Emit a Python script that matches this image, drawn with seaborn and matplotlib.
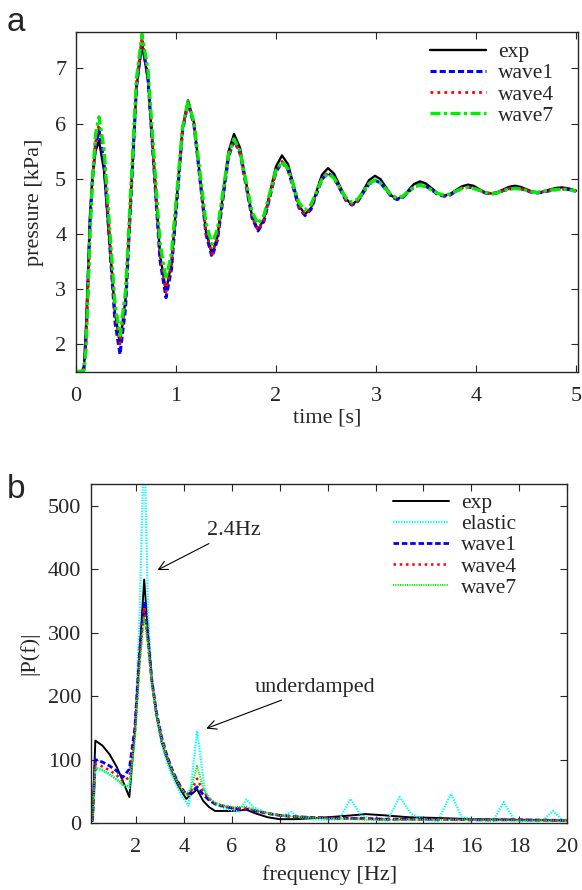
import numpy as np
import pandas as pd
import seaborn as sns
import matplotlib
matplotlib.use("Agg")
import matplotlib.pyplot as plt

# ---- panel a : pressure vs time ----
time_s = [0, 0.06, 0.08, 0.10, 0.12, 0.14, 0.165, 0.195,
          0.23, 0.28, 0.335, 0.39, 0.44, 0.495, 0.55, 0.605,
          0.66, 0.72, 0.78, 0.84, 0.90, 0.955, 1.01, 1.065,
          1.12, 1.18, 1.24, 1.30, 1.36, 1.415, 1.47, 1.525,
          1.58, 1.64, 1.70, 1.76, 1.82, 1.88, 1.94, 2.00,
          2.06, 2.12, 2.175, 2.23, 2.29, 2.35, 2.405, 2.46,
          2.52, 2.58, 2.64, 2.70, 2.76, 2.82, 2.875, 2.93,
          2.99, 3.045, 3.10, 3.155, 3.21, 3.27, 3.325, 3.38,
          3.44, 3.50, 3.56, 3.62, 3.68, 3.74, 3.80, 3.86,
          3.92, 3.975, 4.03, 4.09, 4.15, 4.21, 4.27, 4.33,
          4.39, 4.445, 4.50, 4.555, 4.61, 4.67, 4.735, 4.80,
          4.86, 4.93, 5.0]

p_exp = [1.5, 1.5, 1.6, 2.3, 3.3, 4.35, 5.05, 5.5,
         5.69, 5.15, 3.86, 2.56, 2.02, 2.81, 4.74, 6.66,
         7.45, 6.79, 5.21, 3.62, 2.96, 3.47, 4.69, 5.91,
         6.42, 6.01, 5.03, 4.04, 3.63, 3.95, 4.72, 5.49,
         5.81, 5.56, 4.94, 4.32, 4.07, 4.27, 4.75, 5.22,
         5.42, 5.26, 4.89, 4.51, 4.35, 4.47, 4.77, 5.07,
         5.19, 5.09, 4.86, 4.63, 4.53, 4.61, 4.79, 4.97,
         5.05, 4.99, 4.84, 4.69, 4.63, 4.68, 4.79, 4.90,
         4.95, 4.91, 4.82, 4.73, 4.69, 4.72, 4.79, 4.86,
         4.89, 4.87, 4.81, 4.75, 4.73, 4.75, 4.80, 4.85,
         4.87, 4.85, 4.81, 4.77, 4.75, 4.76, 4.80, 4.83,
         4.84, 4.82, 4.78]

p_wave1 = [1.5, 1.5, 1.55, 2.1, 3.1, 4.2, 5.0, 5.6,
           5.88, 5.29, 3.85, 2.40, 1.81, 2.64, 4.66, 6.67,
           7.50, 6.82, 5.17, 3.52, 2.84, 3.36, 4.61, 5.86,
           6.38, 5.97, 4.98, 3.99, 3.58, 3.89, 4.64, 5.39,
           5.70, 5.46, 4.88, 4.29, 4.05, 4.23, 4.68, 5.12,
           5.30, 5.16, 4.82, 4.47, 4.33, 4.44, 4.72, 4.99,
           5.10, 5.02, 4.81, 4.60, 4.52, 4.59, 4.75, 4.90,
           4.97, 4.92, 4.80, 4.67, 4.62, 4.66, 4.76, 4.85,
           4.89, 4.86, 4.79, 4.71, 4.68, 4.70, 4.77, 4.83,
           4.85, 4.83, 4.79, 4.74, 4.72, 4.74, 4.78, 4.81,
           4.83, 4.82, 4.79, 4.75, 4.74, 4.75, 4.78, 4.80,
           4.81, 4.80, 4.77]

p_wave4 = [1.5, 1.5, 1.55, 2.0, 3.0, 4.1, 5.0, 5.65,
           5.98, 5.40, 3.99, 2.58, 2.00, 2.81, 4.78, 6.74,
           7.55, 6.88, 5.25, 3.62, 2.95, 3.45, 4.68, 5.90,
           6.40, 6.00, 5.02, 4.03, 3.63, 3.93, 4.67, 5.41,
           5.71, 5.47, 4.89, 4.31, 4.07, 4.25, 4.69, 5.13,
           5.31, 5.17, 4.83, 4.49, 4.35, 4.46, 4.73, 4.99,
           5.10, 5.02, 4.82, 4.61, 4.53, 4.59, 4.75, 4.91,
           4.97, 4.92, 4.80, 4.68, 4.63, 4.67, 4.76, 4.85,
           4.89, 4.86, 4.79, 4.72, 4.69, 4.71, 4.77, 4.83,
           4.85, 4.83, 4.79, 4.75, 4.73, 4.74, 4.78, 4.82,
           4.83, 4.82, 4.79, 4.76, 4.75, 4.76, 4.78, 4.80,
           4.81, 4.80, 4.77]

p_wave7 = [1.5, 1.5, 1.52, 1.9, 2.9, 4.0, 5.0, 5.8,
           6.12, 5.54, 4.14, 2.73, 2.15, 2.95, 4.89, 6.82,
           7.62, 6.97, 5.40, 3.83, 3.18, 3.65, 4.79, 5.93,
           6.40, 6.02, 5.11, 4.19, 3.81, 4.09, 4.77, 5.44,
           5.72, 5.50, 4.95, 4.40, 4.18, 4.34, 4.75, 5.15,
           5.31, 5.18, 4.87, 4.56, 4.43, 4.53, 4.76, 4.99,
           5.09, 5.01, 4.83, 4.65, 4.57, 4.63, 4.77, 4.91,
           4.97, 4.92, 4.81, 4.70, 4.65, 4.68, 4.77, 4.85,
           4.88, 4.85, 4.79, 4.73, 4.70, 4.72, 4.77, 4.82,
           4.84, 4.82, 4.79, 4.75, 4.73, 4.74, 4.78, 4.81,
           4.82, 4.81, 4.79, 4.76, 4.75, 4.77, 4.79, 4.80,
           4.81, 4.80, 4.77]

# ---- panel b : spectrum ----
freq = [0.18, 0.3, 0.6, 0.9, 1.2, 1.45, 1.72, 1.95, 2.15, 2.34,
        2.5, 2.66, 2.85, 3.07, 3.3, 3.5, 3.7, 3.9, 4.1, 4.3,
        4.55, 4.8, 5.05, 5.3, 5.7, 6.1, 6.6, 7.0, 7.5, 8.0,
        8.6, 9.2, 10.0, 11.0, 11.6, 12.4, 13.4, 14.5, 16, 18, 20]

P_exp = [3, 130, 122, 108, 88, 66, 41, 145, 270, 384,
         300, 225, 170, 127, 100, 80, 63, 50, 38, 45,
         53, 35, 25, 19, 19, 19, 21, 15, 9, 6,
         6, 7, 9, 12, 14, 12, 9, 8, 6, 5, 4]
P_wave1 = [3, 100, 96, 90, 82, 72, 85, 150, 270, 350,
           290, 225, 175, 135, 105, 85, 68, 55, 45, 48,
           57, 45, 36, 30, 26, 23, 22, 19, 15, 12,
           10, 9, 8, 7, 7, 6, 6, 6, 5, 5, 4]
P_wave4 = [3, 93, 89, 83, 75, 66, 72, 140, 260, 340,
           285, 222, 173, 133, 104, 84, 67, 54, 44, 50,
           70, 50, 38, 31, 26, 23, 23, 19, 15, 12,
           10, 9, 8, 7, 7, 6, 6, 6, 5, 5, 4]
P_wave7 = [3, 88, 84, 77, 69, 60, 58, 130, 250, 325,
           280, 220, 172, 132, 103, 83, 66, 53, 45, 55,
           90, 55, 40, 32, 27, 25, 26, 20, 16, 12,
           10, 9, 7, 6, 5, 5, 5, 5, 5, 4, 4]

freq_el = [0.18, 0.3, 0.6, 0.9, 1.2, 1.45, 1.72, 1.95, 2.15, 2.34,
           2.5, 2.66, 2.85, 3.07, 3.3, 3.5, 3.7, 3.9, 4.2, 4.55,
           4.9, 5.2, 5.6, 6.0, 6.3, 6.6, 6.9, 7.3, 7.8, 8.2,
           8.5, 8.8, 9.3, 10.0, 10.5, 10.95, 11.4, 12.0, 12.5, 13.0,
           13.5, 14.0, 14.6, 15.15, 15.6, 16.2, 16.9, 17.35, 17.8, 18.5,
           19.0, 19.4, 19.8, 20.0]
P_elastic = [3, 85, 82, 76, 68, 60, 55, 140, 330, 620,
             330, 225, 168, 125, 95, 75, 58, 43, 27, 145,
             45, 32, 24, 20, 18, 37, 25, 18, 13, 12,
             17, 9, 6, 5, 6, 38, 12, 5, 4, 41,
             14, 6, 3, 46, 9, 5, 3, 33, 4, 3,
             4, 19, 5, 2]

sns.set_style("ticks")
plt.rcParams['font.family'] = ['Liberation Serif', 'DejaVu Serif']
plt.rcParams['font.size'] = 16
plt.rcParams['xtick.direction'] = 'in'
plt.rcParams['ytick.direction'] = 'in'
plt.rcParams['xtick.top'] = True
plt.rcParams['ytick.right'] = True
plt.rcParams['xtick.major.size'] = 5
plt.rcParams['ytick.major.size'] = 5
plt.rcParams['xtick.major.pad'] = 10.5
plt.rcParams['ytick.major.pad'] = 7
plt.rcParams['axes.linewidth'] = 1.0

fig = plt.figure(figsize=(5.82, 8.90), dpi=100)

leg_kw = dict(loc='upper left', frameon=False, handlelength=2.6,
              handletextpad=0.55, labelspacing=0.05, borderpad=0,
              borderaxespad=0, fontsize=15.5)

# panel a
ax1 = fig.add_axes([0.1306, 0.582, 0.8625, 0.382])
sty_a = {
    'exp': dict(color='black', lw=1.7, ls='-'),
    'wave1': dict(color='blue', lw=2.2, ls=(0, (2, 1))),
    'wave4': dict(color='red', lw=2.0, ls=(0, (1, 1.5))),
    'wave7': dict(color='#00ee00', lw=2.4, ls=(0, (3, 1, 1, 1))),
}
series_a = {'exp': p_exp, 'wave1': p_wave1, 'wave4': p_wave4, 'wave7': p_wave7}
for name, vals in series_a.items():
    sns.lineplot(x=time_s, y=vals, ax=ax1, label=name, **sty_a[name])
ax1.set_xlim(0, 5.02)
ax1.set_ylim(1.49, 7.66)
ax1.set_xticks([0, 1, 2, 3, 4, 5])
ax1.set_yticks([2, 3, 4, 5, 6, 7])
ax1.set_xlabel('time [s]', labelpad=2)
ax1.set_ylabel('pressure [kPa]', labelpad=8)
ax1.legend(bbox_to_anchor=(0.705, 0.970), **leg_kw)
fig.text(0.012, 0.975, 'a', fontsize=24, family='Liberation Sans', va='center')

# panel b
ax2 = fig.add_axes([0.1564, 0.0753, 0.818, 0.381])
sty_b = {
    'exp': dict(color='black', lw=1.4, ls='-'),
    'elastic': dict(color='cyan', lw=1.6, ls=(0, (0.6, 0.6))),
    'wave1': dict(color='blue', lw=2.0, ls=(0, (2, 1))),
    'wave4': dict(color='red', lw=1.8, ls=(0, (1, 1.5))),
    'wave7': dict(color='#00ee00', lw=1.4, ls=(0, (0.6, 0.6))),
}
series_b = {'exp': (freq, P_exp), 'elastic': (freq_el, P_elastic),
            'wave1': (freq, P_wave1), 'wave4': (freq, P_wave4),
            'wave7': (freq, P_wave7)}
for name, (fx, vals) in series_b.items():
    sns.lineplot(x=fx, y=vals, ax=ax2, label=name, **sty_b[name])
ax2.set_xlim(0.12, 20)
ax2.set_ylim(0, 535)
ax2.set_xticks([2, 4, 6, 8, 10, 12, 14, 16, 18, 20])
ax2.set_yticks([0, 100, 200, 300, 400, 500])
ax2.set_xlabel('frequency [Hz]', labelpad=6)
ax2.set_ylabel('|P(f)|', labelpad=6)
ax2.legend(bbox_to_anchor=(0.634, 0.973), **leg_kw)
ax2.annotate('2.4Hz', xy=(2.89, 399), xytext=(4.96, 461), fontsize=16,
             arrowprops=dict(arrowstyle='->', color='black', lw=0.8,
                             shrinkA=0, shrinkB=0), va='center')
ax2.annotate('underdamped', xy=(4.93, 149), xytext=(6.97, 214), fontsize=16,
             arrowprops=dict(arrowstyle='->', color='black', lw=0.8,
                             shrinkA=0, shrinkB=0), va='center')
fig.text(0.012, 0.45, 'b', fontsize=24, family='Liberation Sans', va='center')

fig.savefig('out.png', dpi=100)
